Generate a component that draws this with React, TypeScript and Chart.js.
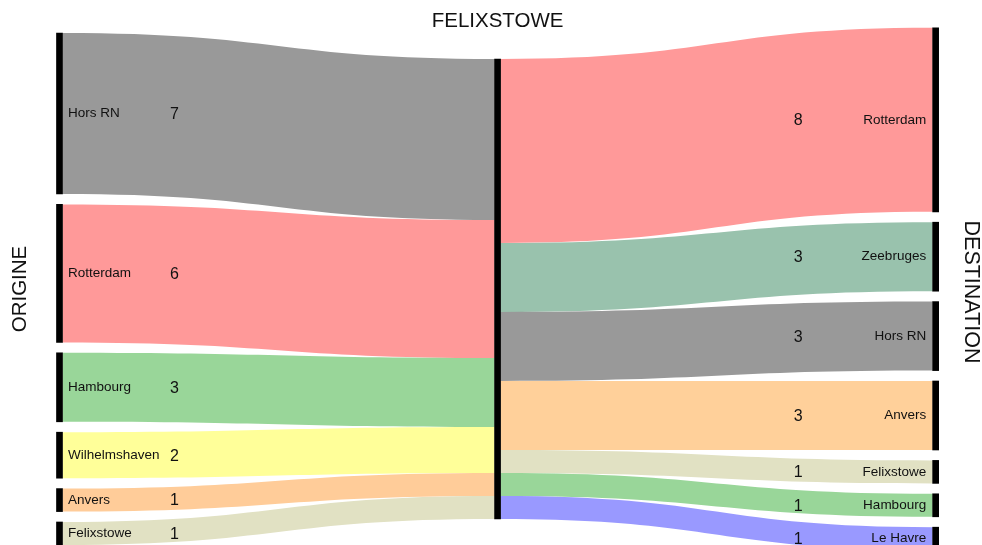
import React, { useEffect, useRef } from "react";
import { Chart, registerables } from "chart.js";
Chart.register(...registerables);

const hubName = "FELIXSTOWE";
const leftTitle = "ORIGINE";
const rightTitle = "DESTINATION";
const originLabels = ["Hors RN", "Rotterdam", "Hambourg", "Wilhelmshaven", "Anvers", "Felixstowe"];
const originValues = [7, 6, 3, 2, 1, 1];
const originColors = ["#999999", "#FF9999", "#99D699", "#FFFF99", "#FFCC99", "#E1E1C3"];
const destLabels = ["Rotterdam", "Zeebruges", "Hors RN", "Anvers", "Felixstowe", "Hambourg", "Le Havre"];
const destValues = [8, 3, 3, 3, 1, 1, 1];
const destColors = ["#FF9999", "#99C2AD", "#999999", "#FFD09A", "#E1E1C3", "#99D699", "#9999FF"];

// layout (in value units)
const GAP = 0.452;
const MID = 12.565;
const Y_MAX = 545 / 23;

function stack(values: number[], gap: number) {
  const total = values.reduce((a, b) => a + b, 0) + gap * (values.length - 1);
  let y = MID - total / 2;
  return values.map((v) => {
    const s = y;
    y += v + gap;
    return [s, s + v];
  });
}

const originStack = stack(originValues, GAP);
const destStack = stack(destValues, GAP);
const hubStackLeft = stack(originValues, 0);
const hubStackRight = stack(destValues, 0);
const hubTotal = originValues.reduce((a, b) => a + b, 0);

const FONT = "'Liberation Sans', Arial, sans-serif";

export default function App() {
  const ref = useRef<HTMLCanvasElement>(null);
  useEffect(() => {
    if (!ref.current) return;
    const BAR = 6;
    const sankeyPlugin = {
      id: "sankeyBands",
      beforeDatasetsDraw(chart: any) {
        const { ctx, scales } = chart;
        const xs = scales.x, ys = scales.y;
        const band = (x0: number, x1: number, a: number[], b: number[], color: string) => {
          const xm = (x0 + x1) / 2;
          const t0 = ys.getPixelForValue(a[0]), b0 = ys.getPixelForValue(a[1]);
          const t1 = ys.getPixelForValue(b[0]), b1 = ys.getPixelForValue(b[1]);
          ctx.beginPath();
          ctx.moveTo(x0, t0);
          ctx.bezierCurveTo(xm, t0, xm, t1, x1, t1);
          ctx.lineTo(x1, b1);
          ctx.bezierCurveTo(xm, b1, xm, b0, x0, b0);
          ctx.closePath();
          ctx.fillStyle = color;
          ctx.fill();
        };
        ctx.save();
        const xl = xs.getPixelForValue(0) + BAR / 2;
        const xcL = xs.getPixelForValue(1) - BAR / 2;
        const xcR = xs.getPixelForValue(1) + BAR / 2;
        const xr = xs.getPixelForValue(2) - BAR / 2;
        originValues.forEach((_, i) => band(xl, xcL, originStack[i], hubStackLeft[i], originColors[i]));
        destValues.forEach((_, i) => band(xcR, xr, hubStackRight[i], destStack[i], destColors[i]));
        ctx.restore();
      },
      afterDatasetsDraw(chart: any) {
        const { ctx, scales } = chart;
        const xs = scales.x, ys = scales.y;
        ctx.save();
        ctx.fillStyle = "#111111";
        ctx.textBaseline = "middle";
        const x0 = xs.getPixelForValue(0);
        const x2 = xs.getPixelForValue(2);
        originLabels.forEach((name, i) => {
          const yc = ys.getPixelForValue((originStack[i][0] + originStack[i][1]) / 2);
          ctx.font = `13.5px ${FONT}`;
          ctx.textAlign = "left";
          ctx.fillText(name, x0 + 8.5, yc);
          ctx.font = `16px ${FONT}`;
          ctx.fillText(String(originValues[i]), x0 + 110.5, yc + 1);
        });
        destLabels.forEach((name, i) => {
          const yc = ys.getPixelForValue((destStack[i][0] + destStack[i][1]) / 2);
          ctx.font = `13.5px ${FONT}`;
          ctx.textAlign = "right";
          ctx.fillText(name, x2 - 9.5, yc);
          ctx.font = `16px ${FONT}`;
          ctx.textAlign = "center";
          ctx.fillText(String(destValues[i]), x2 - 137.5, yc + 1);
        });
        // titles
        ctx.font = `20.5px ${FONT}`;
        ctx.textAlign = "center";
        ctx.fillText(hubName, xs.getPixelForValue(1), 21);
        ctx.save();
        ctx.translate(20, ys.getPixelForValue(MID));
        ctx.rotate(-Math.PI / 2);
        ctx.fillText(leftTitle, 0, 0);
        ctx.restore();
        ctx.save();
        ctx.font = `21.5px ${FONT}`;
        ctx.translate(971, ys.getPixelForValue(MID) + 3);
        ctx.rotate(Math.PI / 2);
        ctx.fillText(rightTitle, 0, 0);
        ctx.restore();
        ctx.restore();
      },
    };

    const nodeData: any[] = [
      ...originStack.map((s) => ({ x: 0, y: s })),
      { x: 1, y: [MID - hubTotal / 2, MID + hubTotal / 2] },
      ...destStack.map((s) => ({ x: 2, y: s })),
    ];

    const chart = new Chart(ref.current, {
      type: "bar",
      data: {
        datasets: [
          {
            label: "nodes",
            data: nodeData,
            backgroundColor: "#000000",
            barThickness: BAR,
            grouped: false,
            borderWidth: 0,
          } as any,
        ],
      },
      options: {
        animation: false,
        responsive: false,
        maintainAspectRatio: false,
        layout: { padding: 0 },
        plugins: { legend: { display: false }, tooltip: { enabled: false } },
        scales: {
          x: { type: "linear", min: -0.1358, max: 2.1058, offset: false, display: false },
          y: { type: "linear", min: 0, max: Y_MAX, reverse: true, display: false },
        },
      },
      plugins: [sankeyPlugin],
    });
    return () => chart.destroy();
  }, []);
  return (
    <div style={{ position: "fixed", left: 0, top: 0, width: 982, height: 545, background: "#fff" }}>
      <canvas ref={ref} width={982} height={545} style={{ display: "block" }} />
    </div>
  );
}
